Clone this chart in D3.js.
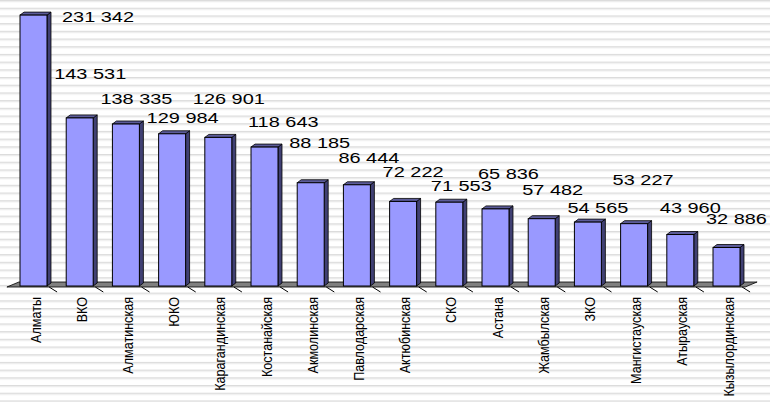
<!DOCTYPE html>
<html>
<head>
<meta charset="utf-8">
<script src="https://cdn.jsdelivr.net/npm/d3@7"></script>
<style>
  body { margin: 0; background: #fff; }
  svg { display: block; }
  .value { font-family: Arial, "Liberation Sans", sans-serif; font-size: 15px; fill: #000; }
  .cat { font-family: Arial, "Liberation Sans", sans-serif; font-size: 14px; fill: #000; }
</style>
</head>
<body>
<script>
var regions = ["Алматы", "ВКО", "Алматинская", "ЮКО", "Карагандинская", "Костанайская",
  "Акмолинская", "Павлодарская", "Актюбинская", "СКО", "Астана", "Жамбылская",
  "ЗКО", "Мангистауская", "Атырауская", "Кызылординская"];
var values = [231342, 143531, 138335, 129984, 126901, 118643, 88185, 86444,
  72222, 71553, 65836, 57482, 54565, 53227, 43960, 32886];

// Excel scattered the value labels, nudge each one from its bar top
var labelNudge = [[42, 7], [-12, -39], [-12, -20], [-12, -11], [-12, -33], [-3, -20],
  [-8, -35], [-5, -22], [-7, -24], [-5, -11], [-4, -30], [-6, -24],
  [-7, -9], [-8, -39], [-7, -22], [-7, -23]];

var width = 770,
  height = 402,
  base = 286,
  depth = { x: 4, y: 3 };

var x = d3.scaleBand().domain(regions).range([10.4, 749.6])
  .paddingInner(0.416).paddingOuter(0.208);
var y = d3.scaleLinear().domain([0, 250000]).range([base, base - 292.75]);

var fmt = function (v) {
  return d3.format(",")(v).replace(/,/g, " ");
};

var svg = d3.select("body").append("svg")
  .attr("width", width)
  .attr("height", height);

// striped background
var pat = svg.append("defs").append("pattern")
  .attr("id", "stripes")
  .attr("patternUnits", "userSpaceOnUse")
  .attr("width", width)
  .attr("height", 7.7);
pat.append("rect").attr("width", width).attr("height", 7.7).attr("fill", "#fff");
pat.append("rect").attr("y", 0).attr("width", width).attr("height", 1).attr("fill", "#dcdcdc");
pat.append("rect").attr("y", 1).attr("width", width).attr("height", 1.2).attr("fill", "#ececec");

svg.append("rect").attr("width", width).attr("height", height).attr("fill", "url(#stripes)");

// floor
var x0 = x.range()[0], x1 = x.range()[1];
svg.append("path")
  .attr("d", "M" + (x0 - 3.5) + "," + (base + 1) + "L" + (x1 - 4.5) + "," + (base + 1) +
    "L" + (x1 + 7.5) + "," + (base - 4) + "L" + (x0 + 8.5) + "," + (base - 4) + "Z")
  .attr("fill", "#808080")
  .attr("stroke", "#000")
  .attr("stroke-width", 0.8);

svg.selectAll(".tick")
  .data(regions)
  .enter()
  .append("line")
  .attr("x1", function (d, i) { return x0 + x.step() * (i + 1) - 7.5; })
  .attr("x2", function (d, i) { return x0 + x.step() * (i + 1) + 0.5; })
  .attr("y1", base + 1)
  .attr("y2", base + 6)
  .attr("stroke", "#000")
  .attr("stroke-width", 1);

// 3d bars
var bars = svg.selectAll(".bar")
  .data(values)
  .enter()
  .append("g")
  .attr("class", "bar");

var w = x.bandwidth();

bars.append("path")
  .attr("d", function (d, i) {
    var bx = x(regions[i]) + w, t = y(d);
    return "M" + bx + "," + t + "l" + depth.x + "," + -depth.y +
      "L" + (bx + depth.x) + "," + (base - depth.y) + "L" + bx + "," + base + "Z";
  })
  .attr("fill", "#404073")
  .attr("stroke", "#000")
  .attr("stroke-width", 0.8);

bars.append("path")
  .attr("d", function (d, i) {
    var bx = x(regions[i]), t = y(d);
    return "M" + bx + "," + t + "l" + depth.x + "," + -depth.y +
      "h" + w + "l" + -depth.x + "," + depth.y + "Z";
  })
  .attr("fill", "#5c5c99")
  .attr("stroke", "#000")
  .attr("stroke-width", 0.8);

bars.append("rect")
  .attr("x", function (d, i) { return x(regions[i]); })
  .attr("y", function (d) { return y(d); })
  .attr("width", w)
  .attr("height", function (d) { return base - y(d); })
  .attr("fill", "#9999ff")
  .attr("stroke", "#000")
  .attr("stroke-width", 1);

// value labels
svg.selectAll(".value")
  .data(values)
  .enter()
  .append("text")
  .attr("class", "value")
  .attr("transform", function (d, i) {
    return "translate(" + (x(regions[i]) + labelNudge[i][0]) + "," +
      (y(d) + labelNudge[i][1]) + ") scale(1.33,1)";
  })
  .text(fmt);

// category labels, a bit condensed like the original
svg.selectAll(".cat")
  .data(regions)
  .enter()
  .append("text")
  .attr("class", "cat")
  .attr("text-anchor", "end")
  .attr("transform", function (d) {
    return "translate(" + (x(d) + w / 2 + 7) + "," + (base + 11) + ") rotate(-90) scale(0.9,1)";
  })
  .text(function (d) { return d; });
</script>
</body>
</html>
